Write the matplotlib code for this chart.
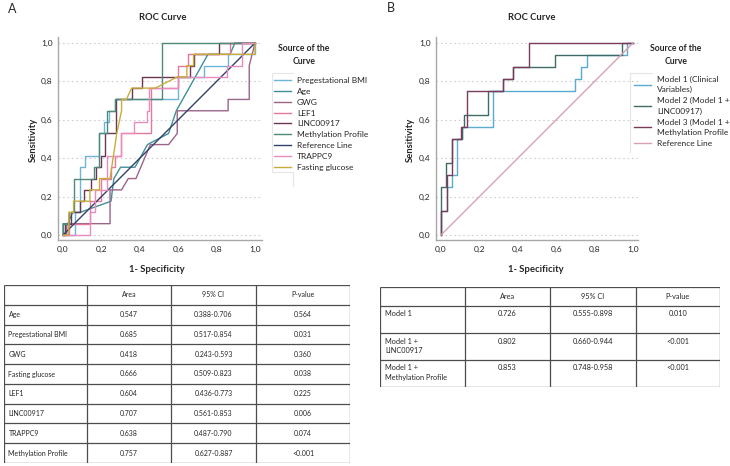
import matplotlib
matplotlib.use("Agg")
import matplotlib.pyplot as plt
from matplotlib.lines import Line2D

plt.rcParams['font.family'] = ['Lato', 'DejaVu Sans']

W, H = 730, 466
fig = plt.figure(figsize=(W / 100, H / 100), dpi=100)


def fx(px):
    return px / W


def fy(py):
    return 1 - py / H


# ---------------- Panel A data (1 - specificity, sensitivity) ----------------
bmi_fpr = [0, 0.06, 0.06, 0.09, 0.09, 0.115, 0.115, 0.19, 0.19, 0.215, 0.215, 0.24, 0.24, 0.27, 0.27, 0.60, 0.60, 0.735, 0.735, 0.86, 0.86, 1.0, 1.0]
bmi_tpr = [0, 0, 0.118, 0.118, 0.353, 0.353, 0.412, 0.412, 0.529, 0.529, 0.588, 0.588, 0.647, 0.647, 0.706, 0.706, 0.824, 0.824, 0.882, 0.882, 0.941, 0.941, 1.0]

age_fpr = [0, 0, 0.025, 0.05, 0.09, 0.25, 0.265, 0.30, 0.375, 0.44, 0.55, 0.59, 0.755, 0.87, 0.895, 1.0]
age_tpr = [0, 0.059, 0.059, 0.118, 0.118, 0.176, 0.294, 0.353, 0.353, 0.471, 0.529, 0.647, 0.941, 0.941, 1.0, 1.0]

gwg_fpr = [0, 0.02, 0.02, 0.245, 0.245, 0.305, 0.34, 0.38, 0.43, 0.455, 0.55, 0.595, 0.595, 0.86, 0.86, 0.97, 0.97, 0.985, 1.0]
gwg_tpr = [0, 0, 0.059, 0.059, 0.235, 0.235, 0.294, 0.294, 0.412, 0.471, 0.471, 0.529, 0.647, 0.647, 0.706, 0.706, 0.882, 0.941, 1.0]

lef1_fpr = [0, 0.03, 0.03, 0.14, 0.14, 0.20, 0.20, 0.25, 0.25, 0.27, 0.27, 0.30, 0.30, 0.46, 0.46, 0.60, 0.60, 0.65, 0.65, 0.87, 0.87, 1.0]
lef1_tpr = [0, 0, 0.059, 0.059, 0.176, 0.176, 0.294, 0.294, 0.353, 0.353, 0.412, 0.412, 0.529, 0.529, 0.765, 0.765, 0.882, 0.882, 0.941, 0.941, 1.0, 1.0]

linc_fpr = [0, 0.01, 0.01, 0.04, 0.04, 0.09, 0.09, 0.11, 0.11, 0.145, 0.145, 0.17, 0.17, 0.20, 0.20, 0.22, 0.22, 0.276, 0.276, 0.357, 0.357, 0.41, 0.41, 0.66, 0.66, 0.68, 0.68, 0.81, 0.81, 1.0]
linc_tpr = [0, 0, 0.059, 0.059, 0.118, 0.118, 0.176, 0.176, 0.235, 0.235, 0.294, 0.294, 0.353, 0.353, 0.412, 0.412, 0.529, 0.529, 0.706, 0.706, 0.765, 0.765, 0.824, 0.824, 0.882, 0.882, 0.941, 0.941, 1.0, 1.0]

meth_fpr = [0, 0, 0.03, 0.03, 0.055, 0.055, 0.16, 0.16, 0.19, 0.19, 0.23, 0.23, 0.27, 0.27, 0.515, 0.515, 1.0]
meth_tpr = [0, 0.059, 0.059, 0.118, 0.118, 0.294, 0.294, 0.353, 0.353, 0.529, 0.529, 0.647, 0.647, 0.706, 0.706, 1.0, 1.0]

ref_fpr = [0, 1.0]
ref_tpr = [0, 1.0]

trap_fpr = [0, 0.14, 0.14, 0.165, 0.165, 0.23, 0.23, 0.30, 0.30, 0.37, 0.37, 0.435, 0.435, 0.45, 0.45, 0.60, 0.60, 0.853, 0.853, 0.93, 0.93, 1.0]
trap_tpr = [0, 0, 0.118, 0.118, 0.235, 0.235, 0.412, 0.412, 0.529, 0.529, 0.588, 0.588, 0.647, 0.647, 0.765, 0.765, 0.824, 0.824, 0.882, 0.882, 1.0, 1.0]

glu_fpr = [0, 0.03, 0.03, 0.055, 0.055, 0.14, 0.14, 0.19, 0.19, 0.245, 0.28, 0.305, 0.305, 0.33, 0.357, 0.48, 0.597, 0.645, 0.645, 0.68, 0.68, 1.0, 1.0]
glu_tpr = [0, 0, 0.118, 0.118, 0.176, 0.176, 0.235, 0.235, 0.294, 0.294, 0.529, 0.647, 0.706, 0.706, 0.765, 0.765, 0.824, 0.824, 0.882, 0.882, 0.941, 0.941, 1.0]

seriesA_labels = ["Pregestational BMI", "Age", "GWG", "LEF1", "LINC00917",
                  "Methylation Profile", "Reference Line", "TRAPPC9", "Fasting glucose"]
seriesA_fpr = [bmi_fpr, age_fpr, gwg_fpr, lef1_fpr, linc_fpr, meth_fpr, ref_fpr, trap_fpr, glu_fpr]
seriesA_tpr = [bmi_tpr, age_tpr, gwg_tpr, lef1_tpr, linc_tpr, meth_tpr, ref_tpr, trap_tpr, glu_tpr]
seriesA_colors = ["#6cb4d8", "#3f8f96", "#9b6489", "#e6799a", "#6b3650",
                  "#4f8a78", "#34406e", "#e88bbf", "#c9ad3c"]

# ---------------- Panel B data ----------------
m1_fpr = [0, 0, 0.03, 0.03, 0.055, 0.055, 0.082, 0.082, 0.108, 0.108, 0.27, 0.27, 0.70, 0.70, 0.729, 0.729, 0.758, 0.758, 0.97, 0.97, 1.0]
m1_tpr = [0, 0.125, 0.125, 0.25, 0.25, 0.3125, 0.3125, 0.5, 0.5, 0.5625, 0.5625, 0.75, 0.75, 0.8125, 0.8125, 0.875, 0.875, 0.9375, 0.9375, 1.0, 1.0]

m2_fpr = [0, 0, 0.026, 0.026, 0.055, 0.055, 0.108, 0.108, 0.12, 0.12, 0.246, 0.246, 0.325, 0.325, 0.375, 0.375, 0.595, 0.595, 0.944, 0.944, 1.0]
m2_tpr = [0, 0.25, 0.25, 0.375, 0.375, 0.5, 0.5, 0.5625, 0.5625, 0.625, 0.625, 0.75, 0.75, 0.8125, 0.8125, 0.875, 0.875, 0.9375, 0.9375, 1.0, 1.0]

m3_fpr = [0, 0, 0.03, 0.03, 0.055, 0.055, 0.105, 0.105, 0.137, 0.137, 0.325, 0.325, 0.375, 0.375, 0.46, 0.46, 1.0]
m3_tpr = [0, 0.125, 0.125, 0.3125, 0.3125, 0.5, 0.5, 0.5625, 0.5625, 0.75, 0.75, 0.8125, 0.8125, 0.875, 0.875, 1.0, 1.0]

refB_fpr = [0, 1.0]
refB_tpr = [0, 1.0]

seriesB_labels = ["Model 1 (Clinical\nVariables)", "Model 2 (Model 1 +\nLINC00917)",
                  "Model 3 (Model 1 +\nMethylation Profile", "Reference Line"]
seriesB_fpr = [m1_fpr, m2_fpr, m3_fpr, refB_fpr]
seriesB_tpr = [m1_tpr, m2_tpr, m3_tpr, refB_tpr]
seriesB_colors = ["#5aaad2", "#3f6b66", "#7a3a5a", "#d9a0b0"]

tick_values = [0.0, 0.2, 0.4, 0.6, 0.8, 1.0]
tick_labels = ["0,0", "0,2", "0,4", "0,6", "0,8", "1,0"]

# ---------------- Table data ----------------
table_header = ["", "Area", "95% CI", "P-value"]
tabA_rows = ["Age", "Pregestational BMI", "GWG", "Fasting glucose", "LEF1",
             "LINC00917", "TRAPPC9", "Methylation Profile"]
tabA_area = ["0.547", "0.685", "0.418", "0.666", "0.604", "0.707", "0.638", "0.757"]
tabA_ci = ["0.388-0.706", "0.517-0.854", "0.243-0.593", "0.509-0.823", "0.436-0.773",
           "0.561-0.853", "0.487-0.790", "0.627-0.887"]
tabA_p = ["0.564", "0.031", "0.360", "0.038", "0.225", "0.006", "0.074", "<0.001"]

tabB_rows = ["Model 1", "Model 1 +\nLINC00917", "Model 1 +\nMethylation Profile"]
tabB_area = ["0.726", "0.802", "0.853"]
tabB_ci = ["0.555-0.898", "0.660-0.944", "0.748-0.958"]
tabB_p = ["0.010", "<0.001", "<0.001"]

TXT = "#262626"


def roc_axes(left, right, top, bottom, x0px, x1px, y0px, y1px):
    ax = fig.add_axes([fx(left), fy(bottom), (right - left) / W, (bottom - top) / H])
    sx = (x1px - x0px)
    sy = (y0px - y1px)
    ax.set_xlim((left - x0px) / sx, (right - x0px) / sx)
    ax.set_ylim((y0px - bottom) / sy, (y0px - top) / sy)
    for s in ["top", "right"]:
        ax.spines[s].set_visible(False)
    for s in ["left", "bottom"]:
        ax.spines[s].set_color("#a8a8a8")
        ax.spines[s].set_linewidth(1.0)
    ax.set_xticks(tick_values)
    ax.set_xticklabels(tick_labels)
    ax.set_yticks(tick_values)
    ax.set_yticklabels(tick_labels)
    ax.tick_params(length=0, labelsize=6.0, colors=TXT, pad=4)
    for t in tick_values:
        ax.axhline(t, color="#cfcfcf", lw=0.8, ls=(0, (1.5, 2.5)), zorder=0)
    return ax


def faint_frame(pts):
    xs = [fx(p[0]) for p in pts]
    ys = [fy(p[1]) for p in pts]
    fig.add_artist(Line2D(xs, ys, color="#e6e6e6", lw=0.8))


# ---------------- Panel A ----------------
axA = roc_axes(58, 262, 37, 240, 63, 255, 235, 43)
handlesA = []
for xs, ys, c, lab in zip(seriesA_fpr, seriesA_tpr, seriesA_colors, seriesA_labels):
    ln, = axA.plot(xs, ys, color=c, lw=1.0, label=lab)
    handlesA.append(ln)

fig.text(fx(12), fy(9), "A", fontsize=9, color=TXT, ha="center", va="center")
fig.text(fx(163), fy(17), "ROC Curve", fontsize=6.8, fontweight="bold", color=TXT, ha="center", va="center")
fig.text(fx(157), fy(270), "1- Specificity", fontsize=6.8, fontweight="bold", color=TXT, ha="center", va="center")
fig.text(fx(33), fy(140), "Sensitivity", fontsize=6.8, fontweight="bold", color=TXT, ha="center", va="center", rotation=90)
fig.text(fx(304), fy(55), "Source of the\nCurve", fontsize=6.2, fontweight="bold", color=TXT,
         ha="center", va="center", linespacing=1.55)
faint_frame([(293, 73), (272, 73), (272, 172), (293, 172), (293, 186)])
legA = fig.legend(handles=handlesA, loc="upper left", bbox_to_anchor=(fx(274), fy(77)),
                  frameon=False, fontsize=6.0, handlelength=2.0, handletextpad=0.75,
                  labelspacing=0.46, borderaxespad=0, borderpad=0)
for t in legA.get_texts():
    t.set_color(TXT)

# ---------------- Panel B ----------------
axB = roc_axes(436, 638, 37, 240, 441, 633, 235, 43)
handlesB = []
for xs, ys, c, lab in zip(seriesB_fpr, seriesB_tpr, seriesB_colors, seriesB_labels):
    ln, = axB.plot(xs, ys, color=c, lw=1.0, label=lab)
    handlesB.append(ln)

fig.text(fx(391), fy(8), "B", fontsize=9, color=TXT, ha="center", va="center")
fig.text(fx(532), fy(17), "ROC Curve", fontsize=6.8, fontweight="bold", color=TXT, ha="center", va="center")
fig.text(fx(536), fy(270), "1- Specificity", fontsize=6.8, fontweight="bold", color=TXT, ha="center", va="center")
fig.text(fx(410), fy(140), "Sensitivity", fontsize=6.8, fontweight="bold", color=TXT, ha="center", va="center", rotation=90)
fig.text(fx(676), fy(55), "Source of the\nCurve", fontsize=6.2, fontweight="bold", color=TXT,
         ha="center", va="center", linespacing=1.55)
faint_frame([(652, 73), (630, 73), (630, 152)])
legB = fig.legend(handles=handlesB, loc="upper left", bbox_to_anchor=(fx(634), fy(75.5)),
                  frameon=False, fontsize=6.0, handlelength=2.0, handletextpad=0.75,
                  labelspacing=0.42, borderaxespad=0, borderpad=0)
for t in legB.get_texts():
    t.set_color(TXT)
    t.set_linespacing(1.6)


# ---------------- Tables ----------------
def draw_table(left, right, top, bottom, col_edges, row_edges, header, cols, top_align, fs, pad):
    wid = right - left
    hgt = bottom - top
    ax = fig.add_axes([fx(left), fy(bottom), wid / W, hgt / H])
    ax.set_xlim(0, wid)
    ax.set_ylim(hgt, 0)
    ax.axis("off")
    ax.vlines(col_edges, 0, hgt, color="#4d4d4d", lw=0.9)
    ax.hlines(row_edges, 0, wid, color="#4d4d4d", lw=0.9)
    for j in range(1, 4):
        ax.text((col_edges[j] + col_edges[j + 1]) / 2, (row_edges[0] + row_edges[1]) / 2,
                header[j], ha="center", va="center", fontsize=fs, color=TXT)
    for i in range(len(cols[0])):
        r0, r1 = row_edges[i + 1], row_edges[i + 2]
        if top_align:
            yv, va = r0 + 4.5, "top"
        else:
            yv, va = (r0 + r1) / 2, "center"
        ax.text(col_edges[0] + pad, yv, cols[0][i], ha="left", va=va, fontsize=fs,
                color=TXT, linespacing=1.45)
        for j in range(1, 4):
            ax.text((col_edges[j] + col_edges[j + 1]) / 2, yv, cols[j][i],
                    ha="center", va=va, fontsize=fs, color=TXT)
    return ax


rowsA = [i * 178 / 9 for i in range(10)]
draw_table(4, 350, 285, 463, [0, 83, 167, 252, 346], rowsA, table_header,
           [tabA_rows, tabA_area, tabA_ci, tabA_p], False, 5.0, 4.5)

draw_table(380, 720, 287, 387, [0, 85, 170, 256, 340], [0, 19, 46, 73, 100], table_header,
           [tabB_rows, tabB_area, tabB_ci, tabB_p], True, 5.3, 5)

fig.savefig("out.png", dpi=100)
